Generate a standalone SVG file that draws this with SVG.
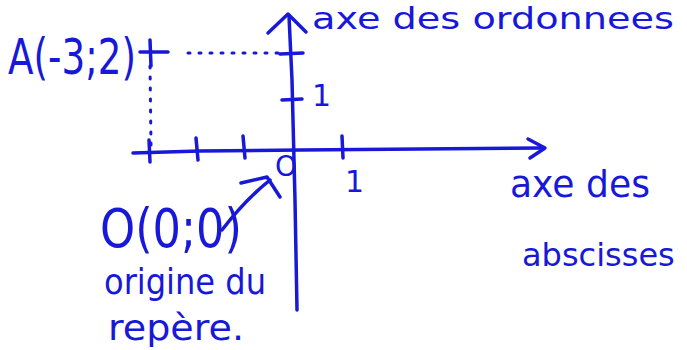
<svg xmlns="http://www.w3.org/2000/svg" width="687" height="350" viewBox="0 0 687 350">
<style>
.ln{stroke:#1818d8;stroke-width:3.5;fill:none;stroke-linecap:round;stroke-linejoin:round}
.dot{stroke:#1818d8;stroke-width:3;fill:none;stroke-linecap:round;stroke-dasharray:2 9}
.t{fill:#1818d8;font-family:"DejaVu Sans",sans-serif}
</style>
<rect width="687" height="350" fill="#ffffff"/>
<g id="connectors">
<path class="ln" d="M133,153 L200,151 L300,150 L420,149 L540,148"/>
<path class="ln" d="M528,139 L545,148 L530,158"/>
<path class="ln" d="M289,16 L292,80 L295,200 L297,310"/>
<path class="ln" d="M268,33 L288,14 L306,32"/>
<path class="ln" d="M149,140 L150,162 M196,138 L198,160 M243,136 L245,158 M342,136 L343,158"/>
<path class="ln" d="M280,54 L303,53 M282,100 L302,99"/>
<path class="dot" d="M188,53 L282,53"/>
<path class="dot" d="M150,66 L151,145"/>
<path class="ln" d="M140,52 L168,52 M150,40 L151,66"/>
<path class="ln" d="M222,230 Q245,200 270,180"/>
<path class="ln" d="M241,183 L267,177 L280,197"/>
</g>
<g id="pointA"><text class="t" x="8" y="74" font-size="50" textLength="128" lengthAdjust="spacingAndGlyphs">A(-3;2)</text></g>
<g id="yAxisLabel"><text class="t" x="312" y="29" font-size="30" textLength="362" lengthAdjust="spacingAndGlyphs">axe des ordonnees</text></g>
<g id="yOne"><text class="t" x="312" y="106" font-size="30">1</text></g>
<g id="xOne"><text class="t" x="345" y="192" font-size="30">1</text></g>
<g id="originMark"><text class="t" x="275" y="176" font-size="28">O</text></g>
<g id="xAxisLabel">
<text class="t" x="510" y="197" font-size="38" textLength="140" lengthAdjust="spacingAndGlyphs">axe des</text>
<text class="t" x="522" y="266" font-size="32">abscisses</text>
</g>
<g id="originLabel">
<text class="t" x="100" y="247" font-size="54" textLength="142" lengthAdjust="spacingAndGlyphs">O(0;0)</text>
<text class="t" x="104" y="294" font-size="36" textLength="162" lengthAdjust="spacingAndGlyphs">origine du</text>
<text class="t" x="108" y="340" font-size="36" textLength="136" lengthAdjust="spacingAndGlyphs">repère.</text>
</g>
</svg>
